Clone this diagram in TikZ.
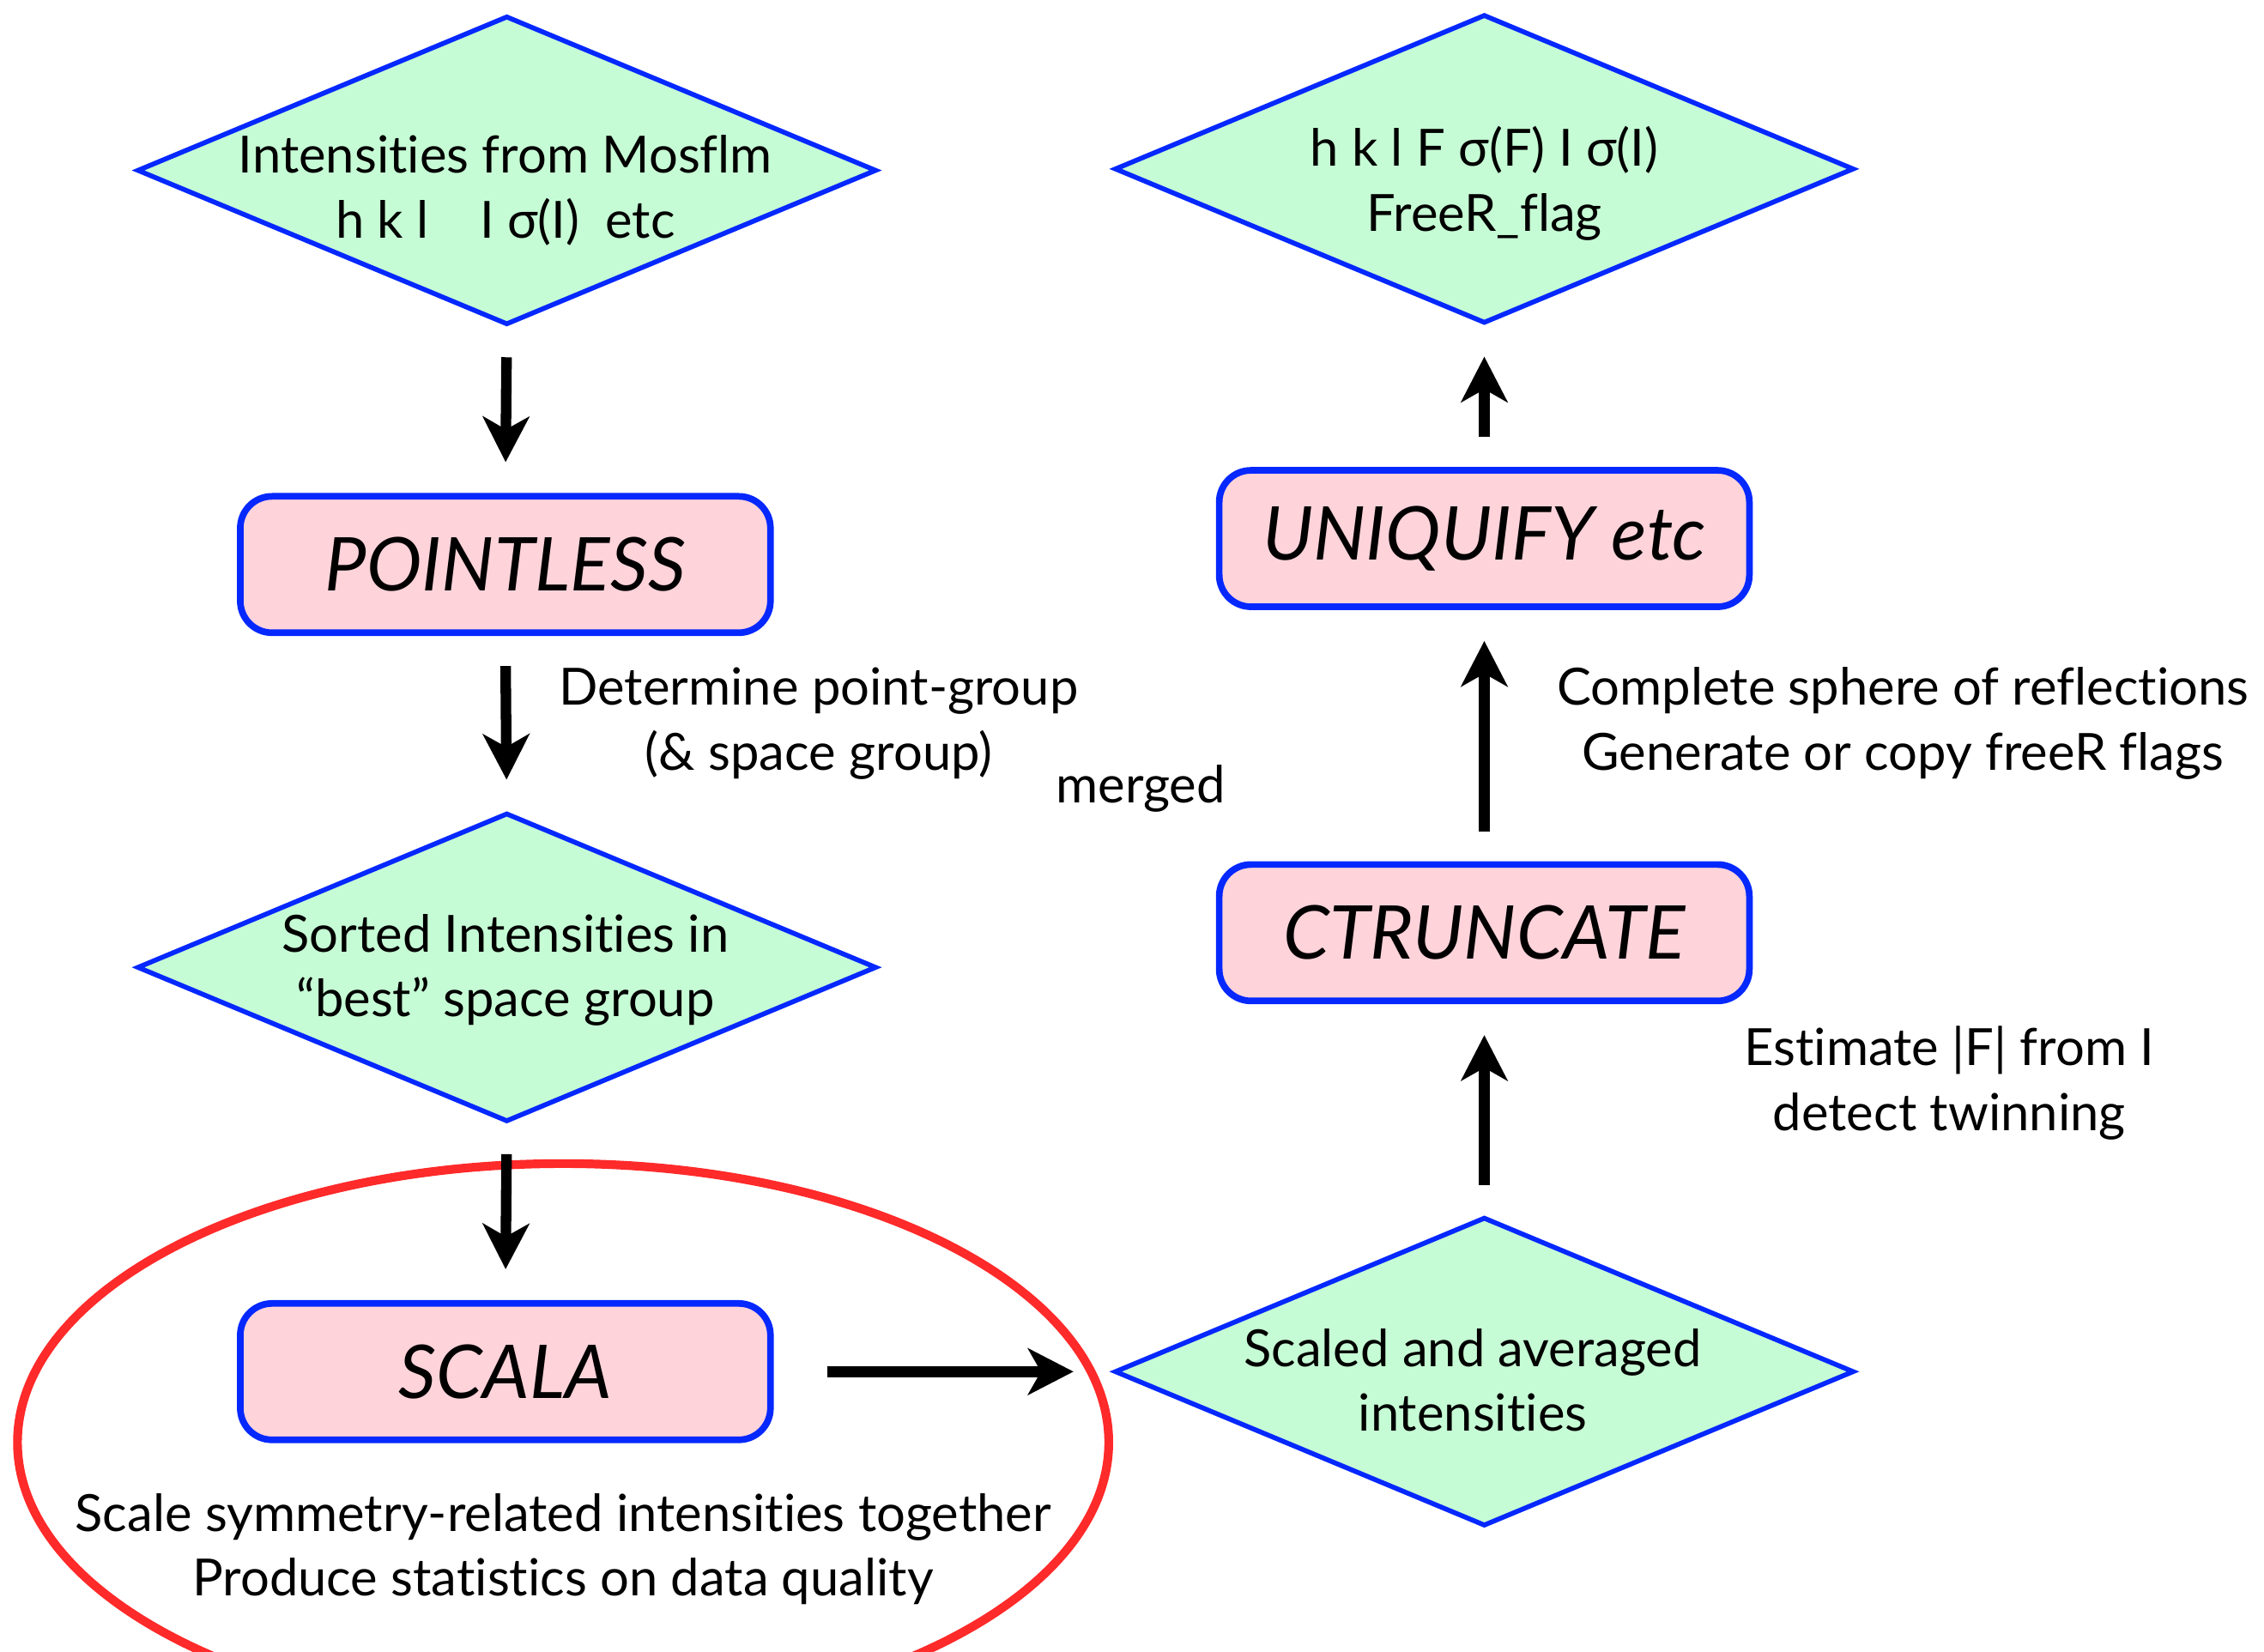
\documentclass[tikz,border=0pt]{standalone}
\usepackage{fontspec}
\setmainfont[Ligatures=NoCommon, RawFeature={-liga;-calt;-clig}]{Lato}
\usepackage{tikz}
\definecolor{mygreen}{RGB}{198,252,213}
\definecolor{myblue}{RGB}{5,40,255}
\definecolor{mypink}{RGB}{255,211,218}
\definecolor{myred}{RGB}{255,42,42}
\usetikzlibrary{shapes.geometric,arrows.meta,positioning}

\begin{document}
\begin{tikzpicture}[
  x=0.016824cm,
  y=-0.016824cm,
  mydiamond/.style={
    draw=myblue,
    line width=1.6pt,
    fill=mygreen,
    diamond,
    aspect=2.39,
    inner sep=0pt,
    minimum width=8.62cm,
    minimum height=3.6cm
    },
  myprog/.style={
    draw=myblue,
    line width=2.2pt,
    fill=mypink,
    rounded corners=0.37cm,
    minimum width=6.18cm,
    minimum height=1.59cm,
    font=\fontsize{24.6}{28}\selectfont\itshape
    },
  mytext/.style={
    align=center,
    font=\fontsize{17}{21.5}\selectfont
    },
  myarrow/.style={
    line width=3.5pt,
    -{Stealth[length=0.53cm,width=0.54cm,inset=0.15cm]},
    shorten <=0.35cm,
    shorten >=0.36cm
    }
]
\useasboundingbox (0,0) rectangle (1568,1144);
\clip (0,0) rectangle (1568,1144);

% scala step
\draw[myred, line width=2.9pt] (390,999) ellipse [x radius=6.36cm, y radius=3.25cm];

% left column
\node[mydiamond] (mosflm) at (351,118) {};
\node[mytext] (mosflmtext) at (350,132) {Intensities from Mosflm\\ h k l\quad I σ(I)\enspace etc};
\node[myprog] (pointless) at (350,391) {POINTLESS};
\node[mydiamond] (sorted) at (351,670) {};
\node[mytext] (sortedtext) at (350,672) {Sorted Intensities in\\ “best” space group};
\node[myprog] (scala) at (350,950) {SCALA};

% right column
\node[mydiamond] (averaged) at (1028,950) {};
\node[mytext] (averagedtext) at (1020,956) {Scaled and averaged\\ intensities};
\node[myprog] (ctruncate) at (1028,646) {CTRUNCATE};
\node[myprog] (uniquify) at (1028,373) {UNIQUIFY etc};
\node[mydiamond] (freer) at (1028,117) {};
\node[mytext] (freertext) at (1028,127) {h k l F σ(F) I σ(I)\\ FreeR\_flag};

\node[mytext] (pointgroup) at (567,501) {Determine point-group\\ (\& space group)};
\node[mytext] (merged) at (790,546) {merged};
\node[mytext] (sphere) at (1318,501) {Complete sphere of reflections\\ Generate or copy freeR flags};
\node[mytext] (estimate) at (1350,750) {Estimate |F| from I\\ detect twinning};
\node[mytext] (quality) at (390,1073) {Scale symmetry-related intensities together\\ Produce statistics on data quality};

\foreach \from/\to/\a/\b in {mosflm/pointless/south/north, pointless/sorted/south/north, sorted/scala/south/north,
    averaged/ctruncate/north/south, ctruncate/uniquify/north/south, uniquify/freer/north/south}
  \draw[myarrow] (\from.\a) -- (\to.\b);
\draw[myarrow, line width=3.8pt, shorten <=0.62cm, shorten >=0.45cm] (scala.east) -- (averaged.west);

\end{tikzpicture}
\end{document}
